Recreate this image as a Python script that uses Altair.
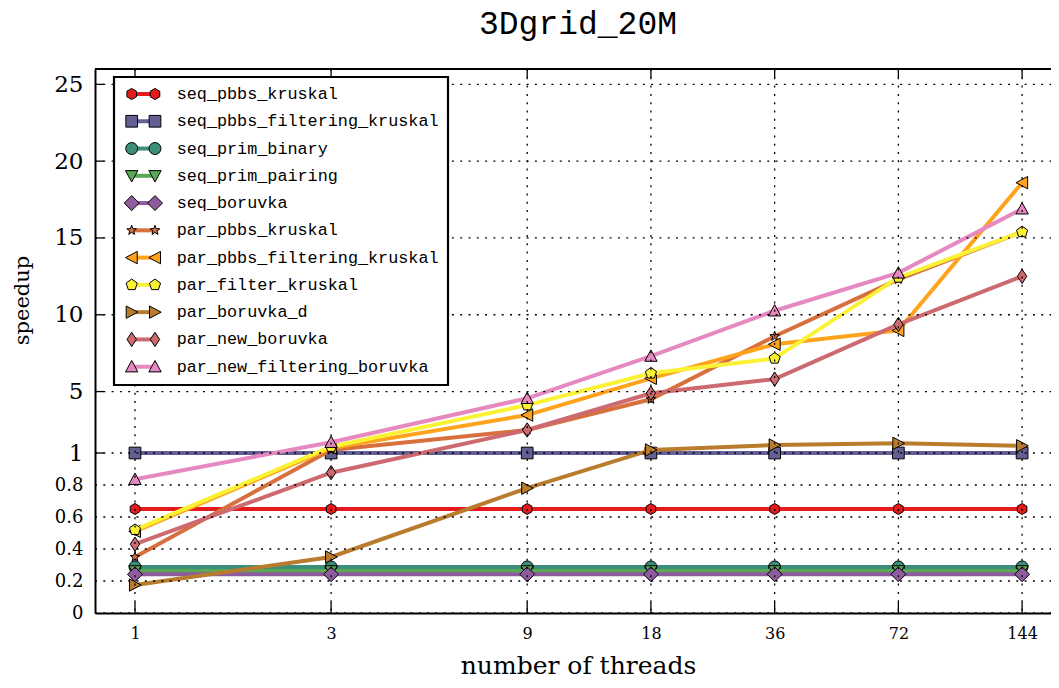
import math
import altair as alt
import pandas as pd

# ---------------- data ----------------
threads = [1, 3, 9, 18, 36, 72, 144]
series_names = [
    "seq_pbbs_kruskal",
    "seq_pbbs_filtering_kruskal",
    "seq_prim_binary",
    "seq_prim_pairing",
    "seq_boruvka",
    "par_pbbs_kruskal",
    "par_pbbs_filtering_kruskal",
    "par_filter_kruskal",
    "par_boruvka_d",
    "par_new_boruvka",
    "par_new_filtering_boruvka",
]
seq_pbbs_kruskal = [0.65, 0.65, 0.65, 0.65, 0.65, 0.65, 0.65]
seq_pbbs_filtering_kruskal = [1.0, 1.0, 1.0, 1.0, 1.0, 1.0, 1.0]
seq_prim_binary = [0.288, 0.288, 0.288, 0.288, 0.288, 0.288, 0.288]
seq_prim_pairing = [0.263, 0.263, 0.263, 0.263, 0.263, 0.263, 0.263]
seq_boruvka = [0.242, 0.242, 0.242, 0.242, 0.242, 0.242, 0.242]
par_pbbs_kruskal = [0.35, 1.2, 2.5, 4.5, 8.6, 12.3, 15.4]
par_pbbs_filtering_kruskal = [0.51, 1.32, 3.47, 5.86, 8.08, 8.98, 18.6]
par_filter_kruskal = [0.52, 1.41, 4.12, 6.19, 7.16, 12.43, 15.39]
par_boruvka_d = [0.175, 0.35, 0.78, 1.2, 1.52, 1.63, 1.47]
par_new_boruvka = [0.43, 0.877, 2.5, 4.89, 5.81, 9.37, 12.5]
par_new_filtering_boruvka = [0.836, 1.70, 4.56, 7.31, 10.26, 12.73, 16.9]

all_values = [
    seq_pbbs_kruskal, seq_pbbs_filtering_kruskal, seq_prim_binary,
    seq_prim_pairing, seq_boruvka, par_pbbs_kruskal,
    par_pbbs_filtering_kruskal, par_filter_kruskal, par_boruvka_d,
    par_new_boruvka, par_new_filtering_boruvka,
]

y_tick_values = [0, 0.2, 0.4, 0.6, 0.8, 1, 5, 10, 15, 20, 25]
y_major_ticks = [1, 5, 10, 15, 20, 25]
chart_title = "3Dgrid_20M"

# ---------------- styles ----------------
colors = [
    "#e41a1c", "#645f95", "#3b8e7a", "#5aa856", "#8e5b9f", "#d8703e",
    "#ffa31c", "#fbf236", "#b97b2c", "#cd6a70", "#e689c0",
]


def poly(n, r, rot=-90.0):
    pts = []
    for k in range(n):
        a = math.radians(rot + 360.0 * k / n)
        pts.append(f"{r*math.cos(a):.3f},{r*math.sin(a):.3f}")
    return "M" + "L".join(pts) + "Z"


def star(ro, ri):
    pts = []
    for k in range(10):
        r = ro if k % 2 == 0 else ri
        a = math.radians(-90 + 36 * k)
        pts.append(f"{r*math.cos(a):.3f},{r*math.sin(a):.3f}")
    return "M" + "L".join(pts) + "Z"


shapes = [
    poly(6, 0.85),                                   # hexagon
    "M-0.9,-0.9L0.9,-0.9L0.9,0.9L-0.9,0.9Z",          # square
    "M0.92,0A0.92,0.92,0,1,1,-0.92,0A0.92,0.92,0,1,1,0.92,0Z",  # circle
    "M-0.95,-0.8L0.95,-0.8L0,0.95Z",                 # triangle down
    "M0,-1.15L1.15,0L0,1.15L-1.15,0Z",               # diamond
    star(0.78, 0.32),                                # star
    "M-0.95,0L0.85,-0.95L0.85,0.95Z",                # triangle left
    poly(5, 0.9),                                    # pentagon
    "M0.95,0L-0.85,-0.95L-0.85,0.95Z",               # triangle right
    "M0,-1.1L0.72,0L0,1.1L-0.72,0Z",                 # thin diamond
    "M0,-0.95L0.95,0.8L-0.95,0.8Z",                  # triangle up
]

W, H = 956, 544
SERIF = "DejaVu Serif"
MONO = "Liberation Mono"

rows = []
for name, vals in zip(series_names, all_values):
    for t, v in zip(threads, vals):
        rows.append({"threads": t, "series": name, "speedup": v})
df = pd.DataFrame(rows)

legend_df = pd.DataFrame({"series": series_names, "idx": list(range(len(series_names)))})

xscale = alt.Scale(type="log", domain=[0.7993, 169.3], nice=False)
yscale = alt.Scale(type="linear", domain=[0, 1, 26], range=[H, 384, 0], nice=False, zero=False)
cscale = alt.Scale(domain=series_names, range=colors)
sscale = alt.Scale(domain=series_names, range=shapes)

x_axis = alt.Axis(
    values=threads, format="d", labelFont=SERIF, labelFontSize=16, labelPadding=12,
    labelColor="black", labelFlush=False, labelOverlap=False, ticks=False, grid=False,
    domainColor="black", domainWidth=2, title="number of threads", titleFont=SERIF,
    titleFontSize=25, titleFontWeight="normal", titleColor="black",
    titleBaseline="alphabetic", titleX=483, titleY=60, titleAlign="center", zindex=1,
)
y_axis = alt.Axis(
    values=y_tick_values, format=".2~f", labelFont=SERIF,
    labelFontSize={"condition": {"test": "datum.value < 1", "value": 18}, "value": 23},
    labelPadding=12, labelColor="black", labelFlush=False, labelOverlap=False,
    ticks=False, grid=False, domainColor="black", domainWidth=2, title="speedup",
    titleFont=SERIF, titleFontSize=21, titleFontWeight="normal", titleColor="black",
    titleAngle=270, titleBaseline="alphabetic", titleAlign="center",
    titleX=-67, titleY=231, zindex=1,
)

X = alt.X("threads:Q", scale=xscale, axis=x_axis)
Y = alt.Y("speedup:Q", scale=yscale, axis=y_axis)

layers = []

# data lines + markers, series by series
for i, name in enumerate(series_names):
    base = alt.Chart(df).transform_filter(alt.datum.series == name)
    enc = dict(x=X, y=Y, color=alt.Color("series:N", scale=cscale, legend=None))
    layers.append(base.mark_line(strokeWidth=4).encode(**enc))
    layers.append(
        base.mark_point(filled=True, size=169, stroke="black", strokeWidth=1, opacity=1).encode(
            shape=alt.Shape("series:N", scale=sscale, legend=None), **enc
        )
    )

# dotted grid on top of data
grid_x = alt.Chart(pd.DataFrame({"threads": threads})).mark_rule(
    color="black", strokeWidth=1.3, strokeDash=[2, 6.3]
).encode(x=X, y=alt.value(0), y2=alt.value(H))
grid_y = alt.Chart(pd.DataFrame({"speedup": y_tick_values})).mark_rule(
    color="black", strokeWidth=1.3, strokeDash=[2, 6.3]
).encode(y=Y, x=alt.value(0), x2=alt.value(W))
layers += [grid_x, grid_y]

# inward ticks and top spine
tick_df = pd.DataFrame({"threads": threads})
layers.append(alt.Chart(tick_df).mark_rule(color="black", strokeWidth=1.3).encode(
    x=X, y=alt.value(H), y2=alt.value(H - 11)))
layers.append(alt.Chart(tick_df).mark_rule(color="black", strokeWidth=1.3).encode(
    x=X, y=alt.value(0), y2=alt.value(9)))
layers.append(alt.Chart(pd.DataFrame({"speedup": y_major_ticks})).mark_rule(
    color="black", strokeWidth=1.3).encode(y=Y, x=alt.value(0), x2=alt.value(9)))
layers.append(alt.Chart(pd.DataFrame({"k": [0]})).mark_rule(color="black", strokeWidth=2).encode(
    x=alt.value(0), x2=alt.value(W), y=alt.value(0)))

# custom legend (line with two markers, matplotlib style)
layers.append(alt.Chart(pd.DataFrame({"k": [0]})).mark_rect(
    fill="white", stroke="black", strokeWidth=2.2).encode(
    x=alt.value(19), x2=alt.value(353), y=alt.value(8), y2=alt.value(316)))
leg = alt.Chart(legend_df).transform_calculate(ly="25 + datum.idx * 27.27")
leg_y = alt.Y("ly:Q", scale=None, axis=None)
leg_c = alt.Color("series:N", scale=cscale, legend=None)
layers.append(leg.mark_rule(strokeWidth=4).encode(
    x=alt.value(36.7), x2=alt.value(60), y=leg_y, color=leg_c))
for px in (36.7, 60):
    layers.append(leg.mark_point(filled=True, size=169, stroke="black", strokeWidth=1, opacity=1).encode(
        x=alt.value(px), y=leg_y, color=leg_c,
        shape=alt.Shape("series:N", scale=sscale, legend=None)))
layers.append(leg.mark_text(align="left", baseline="middle", font=MONO, fontSize=16.8, color="black").encode(
    x=alt.value(81.7), y=leg_y, text="series:N"))

# chart title as text above the plot
layers.append(alt.Chart(pd.DataFrame({"title": [chart_title]})).mark_text(
    align="center", baseline="alphabetic", font=MONO, fontSize=33, color="black").encode(
    x=alt.value(W / 2 + 5), y=alt.value(-35), text="title:N"))

chart = alt.layer(*layers).properties(
    width=W, height=H,
    autosize=alt.AutoSizeParams(type="none"),
    padding={"left": 87, "top": 61, "right": 0, "bottom": 67},
).configure_view(stroke=None).configure(background="white")

chart.save("out.html", embed_options={"renderer": "svg", "actions": False})
